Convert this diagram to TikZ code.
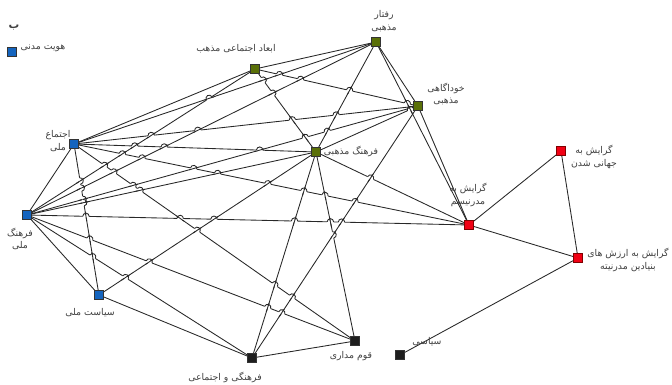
\documentclass[tikz,border=0pt]{standalone}
\usepackage{fontspec}
\usepackage{tikz}
\usetikzlibrary{backgrounds}
\TeXXeTstate=1
\newfontfamily\arabicfont[Script=Arabic]{DejaVu Sans}
\newcommand{\fa}[1]{{\arabicfont\beginR #1\endR}}
\definecolor{nblue}{RGB}{20,100,190}
\definecolor{ngreen}{RGB}{90,112,8}
\definecolor{nred}{RGB}{240,0,20}
\definecolor{nblack}{RGB}{30,30,30}
\definecolor{edgec}{RGB}{40,40,40}
\tikzset{
  sq/.style={draw=black!80, line width=0.5pt, minimum size=7pt, inner sep=0pt},
  bluebox/.style={sq, fill=nblue},
  greenbox/.style={sq, fill=ngreen},
  redbox/.style={sq, fill=nred, draw=red!50!black},
  blackbox/.style={sq, fill=nblack},
  lbl/.style={font=\fontsize{7}{9.5}\selectfont, text=black!75, align=center, inner sep=1pt},
  edge/.style={draw=edgec, line width=0.65pt}
}
% edge #1--#2 jumps over edge #3--#4 where they cross
\newcommand{\hopover}[4]{%
  \pgfpointanchor{#1}{center}\pgfgetlastxy{\hopXa}{\hopYa}%
  \pgfpointanchor{#2}{center}\pgfgetlastxy{\hopXb}{\hopYb}%
  \pgfpointanchor{#3}{center}\pgfgetlastxy{\hopXc}{\hopYc}%
  \pgfpointanchor{#4}{center}\pgfgetlastxy{\hopXd}{\hopYd}%
  \pgfmathsetmacro\hopax{\hopXa/7.5}\pgfmathsetmacro\hopay{\hopYa/7.5}%
  \pgfmathsetmacro\hopbx{\hopXb/7.5}\pgfmathsetmacro\hopby{\hopYb/7.5}%
  \pgfmathsetmacro\hopcx{\hopXc/7.5}\pgfmathsetmacro\hopcy{\hopYc/7.5}%
  \pgfmathsetmacro\hopdx{\hopXd/7.5}\pgfmathsetmacro\hopdy{\hopYd/7.5}%
  \pgfmathsetmacro\hopden{(\hopax-\hopbx)*(\hopcy-\hopdy)-(\hopay-\hopby)*(\hopcx-\hopdx)}%
  \pgfmathtruncatemacro\hopdok{abs(\hopden)>0.5}%
  \ifnum\hopdok=1
    \pgfmathsetmacro\hopt{((\hopax-\hopcx)*(\hopcy-\hopdy)-(\hopay-\hopcy)*(\hopcx-\hopdx))/\hopden}%
    \pgfmathsetmacro\hopu{((\hopax-\hopcx)*(\hopay-\hopby)-(\hopay-\hopcy)*(\hopax-\hopbx))/\hopden}%
    \pgfmathtruncatemacro\hopok{and(and(\hopt>0.04,\hopt<0.96),and(\hopu>0.04,\hopu<0.96))}%
    \ifnum\hopok=1
      \pgfmathsetmacro\hopx{7.5*(\hopax+\hopt*(\hopbx-\hopax))}%
      \pgfmathsetmacro\hopy{7.5*(\hopay+\hopt*(\hopby-\hopay))}%
      \pgfmathsetmacro\hopphi{atan2(\hopby-\hopay,\hopbx-\hopax)}%
      \pgfmathsetmacro\hopphi{\hopphi>90 ? \hopphi-180 : (\hopphi<=-90 ? \hopphi+180 : \hopphi)}%
      \pgfmathsetmacro\hoppsi{atan2(\hopdy-\hopcy,\hopdx-\hopcx)}%
      \draw[white, line width=2pt] ([shift={(\hopphi:2.4pt)}]\hopx pt,\hopy pt) -- ([shift={(\hopphi+180:2.4pt)}]\hopx pt,\hopy pt);
      \draw[edge] ([shift={(\hoppsi:3.6pt)}]\hopx pt,\hopy pt) -- ([shift={(\hoppsi+180:3.6pt)}]\hopx pt,\hopy pt);
      \draw[edge] ([shift={(\hopphi+180:2.4pt)}]\hopx pt,\hopy pt) arc[start angle=\hopphi+180, end angle=\hopphi, radius=2.4pt];
    \fi
  \fi
}
\def\edgelist{raftar/abaad, raftar/khod, raftar/farmaz, raftar/ejtmel, raftar/farmel,
  raftar/modern, abaad/khod, abaad/farmaz, abaad/farmel, abaad/ejtmel,
  khod/farmaz, khod/ejtmel, khod/farmel, khod/modern, khod/farej,
  farmaz/ejtmel, farmaz/farmel, farmaz/modern, farmaz/farej, farmaz/ghom, farmaz/siasmel,
  ejtmel/farmel, ejtmel/siasmel, ejtmel/modern, ejtmel/ghom,
  farmel/siasmel, farmel/farej, farmel/ghom, farmel/modern,
  siasmel/farej, farej/ghom, modern/jahani, modern/arzesh, jahani/arzesh, arzesh/siasi}

\begin{document}
\begin{tikzpicture}[x=0.75pt, y=-0.75pt]
    \useasboundingbox (0,0) rectangle (672,385);
    % squares
    \node[bluebox] (hoviat) at (12,52) {};
    \node[greenbox] (raftar) at (376,42) {};
    \node[greenbox] (abaad) at (255,69) {};
    \node[greenbox] (khod) at (418,106) {};
    \node[greenbox] (farmaz) at (316,152) {};
    \node[bluebox] (ejtmel) at (74,144) {};
    \node[bluebox] (farmel) at (27,215) {};
    \node[bluebox] (siasmel) at (99,295) {};
    \node[redbox] (modern) at (469,225) {};
    \node[redbox] (jahani) at (561,151) {};
    \node[redbox] (arzesh) at (578,258) {};
    \node[blackbox] (siasi) at (400,355) {};
    \node[blackbox] (ghom) at (355,341) {};
    \node[blackbox] (farej) at (252,358) {};

    % labels
    \node[lbl, font=\fontsize{8}{9}\selectfont\bfseries] (be) at (14,28) {\fa{ب}};
    \node[lbl] (hoviatl) at (43,48) {\fa{هویت مدنی}};
    \node[lbl] (raftarl) at (384,21) {\fa{رفتار}\\\fa{مذهبی}};
    \node[lbl] (abaadl) at (236,49) {\fa{ابعاد اجتماعی مذهب}};
    \node[lbl] (khodl) at (446,94) {\fa{خوداگاهی}\\\fa{مذهبی}};
    \node[lbl] (farmazl) at (351,151) {\fa{فرهنگ مذهبی}};
    \node[lbl] (ejtmell) at (58,141) {\fa{اجتماع}\\\fa{ملی}};
    \node[lbl] (farmell) at (20,239) {\fa{فرهنگ}\\\fa{ملی}};
    \node[lbl] (siasmell) at (90,313) {\fa{سیاست ملی}};
    \node[lbl] (modernl) at (468,195) {\fa{گرایش به}\\\fa{مدرنیسم}};
    \node[lbl] (jahanil) at (594,157) {\fa{گرایش به}\\\fa{جهانی شدن}};
    \node[lbl] (arzeshl) at (628,260) {\fa{گرایش به ارزش های}\\\fa{بنیادین مدرنیته}};
    \node[lbl] (siasil) at (427,342) {\fa{سیاسی}};
    \node[lbl] (ghoml) at (351,356) {\fa{قوم مداری}};
    \node[lbl] (farejl) at (225,377) {\fa{فرهنگی و اجتماعی}};

    % connectors, with jumps where they cross
    \begin{pgfonlayer}{background}
    \foreach \a/\b in \edgelist {\draw[edge] (\a) -- (\b);}
    \foreach \a/\b [count=\i] in \edgelist {
      \foreach \c/\d [count=\j] in \edgelist {
        \ifnum\j<\i \hopover{\a}{\b}{\c}{\d}\fi
      }
    }
    \end{pgfonlayer}
\end{tikzpicture}
\end{document}
